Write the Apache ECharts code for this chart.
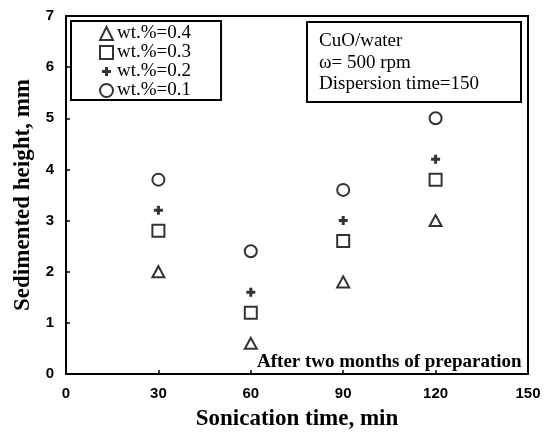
<!DOCTYPE html>
<html>
<head>
<meta charset="utf-8">
<script src="https://cdn.jsdelivr.net/npm/echarts@6/dist/echarts.min.js"></script>
<style>
html,body{margin:0;padding:0;background:#fff;}
#chart{width:544px;height:436px;}
</style>
</head>
<body>
<div id="chart"></div>
<script>
// Data
const sonicationTime = [30, 60, 90, 120];
const wt04 = [2.0, 0.6, 1.8, 3.0];
const wt03 = [2.8, 1.2, 2.6, 3.8];
const wt02 = [3.2, 1.6, 3.0, 4.2];
const wt01 = [3.8, 2.4, 3.6, 5.0];
const seriesNames = ['wt.%=0.4', 'wt.%=0.3', 'wt.%=0.2', 'wt.%=0.1'];
const xTicks = [0, 30, 60, 90, 120, 150];
const yTicks = [0, 1, 2, 3, 4, 5, 6, 7];
const infoLines = ['CuO/water', 'ω= 500 rpm', 'Dispersion time=150'];
const noteText = 'After two months of preparation';

const pair = vals => sonicationTime.map((t, i) => [t, vals[i]]);
const plusPath = 'path://M0,0M13,13M5,2H8V5H11V8H8V11H5V8H2V5H5Z';
const openStyle = {color: '#fff', borderColor: '#000', borderWidth: 2};

const chart = echarts.init(document.getElementById('chart'), null, {renderer: 'canvas'});
chart.setOption({
  animation: false,
  backgroundColor: '#fff',
  grid: {left: 66, right: 16, top: 16, bottom: 61, show: true, borderColor: '#000', borderWidth: 2, backgroundColor: 'transparent'},
  title: [
    {
      text: infoLines.join('\n'),
      left: 307, top: 22,
      padding: [8, 42, 7, 12],
      borderColor: '#000', borderWidth: 2,
      textStyle: {fontFamily: 'Liberation Serif', fontSize: 19, fontWeight: 'normal', color: '#000', lineHeight: 21.7}
    },
    {
      text: noteText,
      left: 257, top: 352,
      padding: 0,
      textStyle: {fontFamily: 'Liberation Serif', fontSize: 19, fontWeight: 'bold', color: '#000', lineHeight: 21}
    }
  ],
  legend: {
    orient: 'vertical',
    left: 71, top: 21,
    data: seriesNames,
    itemWidth: 13, itemHeight: 13,
    itemGap: 0,
    padding: [3, 30, 0, 28],
    borderColor: '#000', borderWidth: 2,
    textStyle: {fontFamily: 'Liberation Serif', fontSize: 19, color: '#000', lineHeight: 19, padding: [0, 0, 0, -1]}
  },
  xAxis: {
    type: 'value', min: 0, max: 150, interval: 30,
    name: 'Sonication time, min', nameLocation: 'middle', nameGap: 34,
    nameTextStyle: {fontFamily: 'Liberation Serif', fontSize: 23, fontWeight: 'bold', color: '#000'},
    axisLine: {show: true, onZero: false, lineStyle: {color: '#000', width: 2}},
    axisTick: {show: true, inside: true, length: 4, lineStyle: {color: '#000', width: 1.5}},
    axisLabel: {margin: 12, fontFamily: 'Liberation Sans', fontSize: 15, fontWeight: 'bold', color: '#000',
      formatter: v => xTicks.includes(v) ? String(v) : ''},
    splitLine: {show: false}
  },
  yAxis: {
    type: 'value', min: 0, max: 7, interval: 1,
    name: 'Sedimented height, mm', nameLocation: 'middle', nameGap: 27,
    nameTextStyle: {fontFamily: 'Liberation Serif', fontSize: 23, fontWeight: 'bold', color: '#000'},
    axisLine: {show: true, onZero: false, lineStyle: {color: '#000', width: 2}},
    axisTick: {show: true, inside: true, length: 4, lineStyle: {color: '#000', width: 1.5}},
    axisLabel: {margin: 12, fontFamily: 'Liberation Sans', fontSize: 15, fontWeight: 'bold', color: '#000',
      formatter: v => yTicks.includes(v) ? String(v) : ''},
    splitLine: {show: false}
  },
  series: [
    {name: seriesNames[0], type: 'scatter', data: pair(wt04), symbol: 'triangle', symbolSize: [12, 11], itemStyle: openStyle},
    {name: seriesNames[1], type: 'scatter', data: pair(wt03), symbol: 'rect', symbolSize: 12, itemStyle: openStyle},
    {name: seriesNames[2], type: 'scatter', data: pair(wt02), symbol: plusPath, symbolSize: 13, itemStyle: {color: '#000'}},
    {name: seriesNames[3], type: 'scatter', data: pair(wt01), symbol: 'circle', symbolSize: 12, itemStyle: openStyle}
  ]
});
</script>
</body>
</html>
